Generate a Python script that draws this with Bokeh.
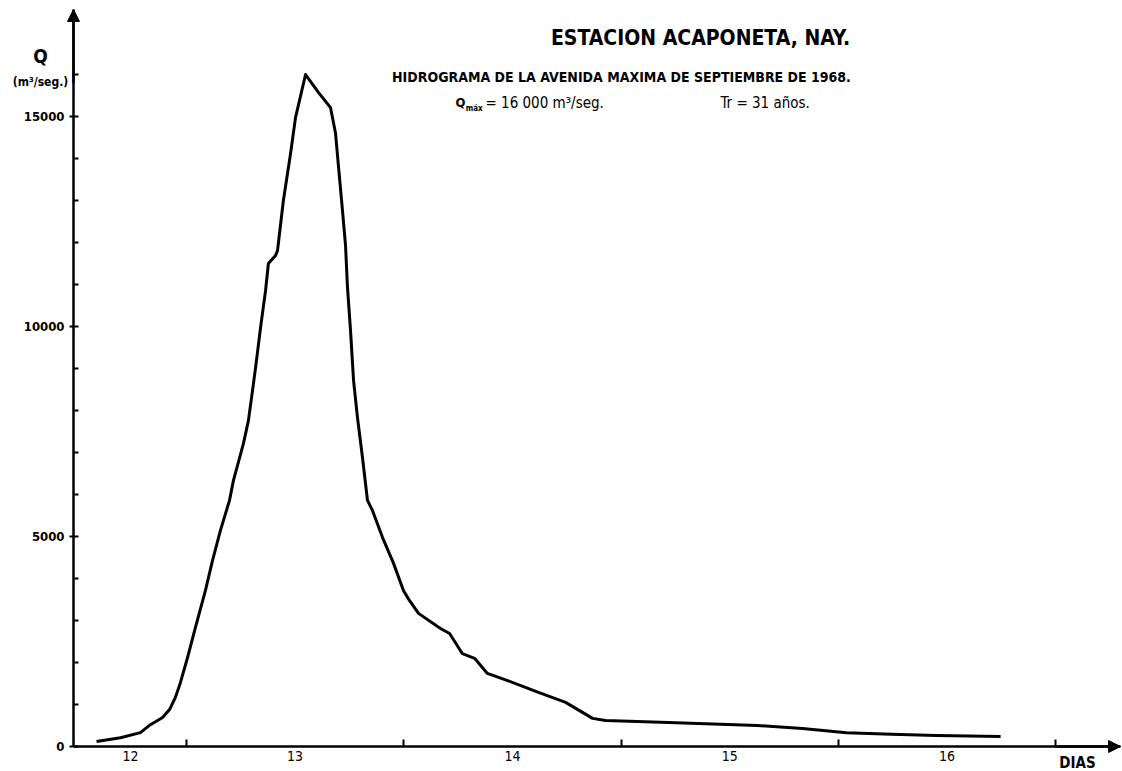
from bokeh.plotting import figure
from bokeh.models import FixedTicker, Label, Arrow, NormalHead, Range1d
from bokeh.embed import file_html
from bokeh.resources import INLINE

# Hydrograph, September 1968 flood (day of month, discharge m3/s)
dias = [12.586, 12.696, 12.788, 12.834, 12.890, 12.922, 12.949, 12.972, 13.005, 13.041,
        13.087, 13.120, 13.156, 13.198, 13.216, 13.262, 13.285, 13.304, 13.318, 13.341,
        13.364, 13.377, 13.410, 13.419, 13.446, 13.479, 13.502, 13.548, 13.608, 13.663,
        13.686, 13.700, 13.718, 13.732, 13.741, 13.755, 13.769, 13.787, 13.810, 13.833,
        13.856, 13.902, 13.953, 13.999, 14.026, 14.068, 14.169, 14.211, 14.270, 14.326,
        14.385, 14.478, 14.620, 14.745, 14.869, 14.929, 15.219, 15.628, 15.835, 16.038,
        16.245, 16.452, 16.747]
caudal = [120, 210, 330, 520, 690, 880, 1170, 1520, 2120, 2830,
          3710, 4430, 5140, 5860, 6330, 7210, 7760, 8480, 9020, 9980,
          10860, 11500, 11690, 11810, 13000, 14120, 14980, 16000, 15570, 15210,
          14600, 13790, 12760, 11930, 10930, 9900, 8710, 7830, 6880, 5860,
          5620, 4980, 4360, 3710, 3480, 3170, 2810, 2690, 2210, 2100,
          1740, 1570, 1290, 1050, 670, 620, 570, 500, 430, 330,
          290, 260, 240]

y_ticks = list(range(0, 17000, 1000))
y_label_ticks = [0, 5000, 10000, 15000]
y_labels = ["0", "5000", "10000", "15000"]
day_bounds = [13, 14, 15, 16, 17]
day_label_pos = [12.742, 13.5, 14.5, 15.5, 16.5]
day_labels = ["12", "13", "14", "15", "16"]

# axis origin and arrow tips
X0, X1 = 12.480, 17.299
Y0, Y1 = 0, 17550
# visible window (whole canvas)
XL, XR = 12.144, 17.308
YB, YT = -595, 17762
FONT = "DejaVu Sans Condensed"

p = figure(width=1122, height=771, output_backend="svg", toolbar_location=None,
           x_range=Range1d(XL, XR), y_range=Range1d(YB, YT),
           min_border=0)
p.outline_line_color = None
p.xgrid.visible = False
p.ygrid.visible = False
p.background_fill_color = "white"

p.line(dias, caudal, line_color="black", line_width=3, line_join="round")

# y axis
ya = p.yaxis[0]
ya.fixed_location = X0
ya.bounds = (Y0, Y1)
ya.ticker = FixedTicker(ticks=y_ticks, minor_ticks=y_label_ticks)
ya.major_label_overrides = {t: (y_labels[y_label_ticks.index(t)] if t in y_label_ticks else "") for t in y_ticks}
ya.axis_line_width = 2.5
ya.axis_line_color = "black"
ya.major_tick_in = 5
ya.major_tick_out = 0
ya.major_tick_line_width = 2
ya.minor_tick_in = 0
ya.minor_tick_out = 4
ya.minor_tick_line_width = 2
ya.major_label_standoff = 5
ya.major_label_text_font = FONT
ya.major_label_text_font_style = "bold"
ya.major_label_text_font_size = "13px"
ya.major_label_text_color = "black"

# x axis
xa = p.xaxis[0]
xa.fixed_location = Y0
xa.bounds = (X0, X1)
xa.ticker = FixedTicker(ticks=day_label_pos, minor_ticks=day_bounds)
xa.major_label_overrides = {t: l for t, l in zip(day_label_pos, day_labels)}
xa.axis_line_width = 2.5
xa.axis_line_color = "black"
xa.major_tick_line_color = None
xa.major_tick_in = 0
xa.major_tick_out = 0
xa.minor_tick_in = 7
xa.minor_tick_out = 0
xa.minor_tick_line_width = 2
xa.major_label_standoff = 4
xa.major_label_text_font = FONT
xa.major_label_text_font_size = "14px"
xa.major_label_text_color = "black"

# arrow heads on axes
p.add_layout(Arrow(x_start=X0, y_start=Y1 * 0.9, x_end=X0, y_end=Y1, line_width=2.5,
                   end=NormalHead(size=12, fill_color="black", line_color="black")))
p.add_layout(Arrow(x_start=X1 - 0.3, y_start=0, x_end=X1, y_end=0, line_width=2.5,
                   end=NormalHead(size=12, fill_color="black", line_color="black")))

def lab(x, y, text, size, style="bold", align="left", baseline="middle"):
    p.add_layout(Label(x=x, y=y, text=text, text_font=FONT, text_font_size=size,
                       text_font_style=style, text_color="black", text_align=align,
                       text_baseline=baseline))

lab(15.366, 16881, "ESTACION ACAPONETA, NAY.", "21px", style="bold", align="center")
lab(15.002, 15952, "HIDROGRAMA DE LA AVENIDA MAXIMA DE SEPTIEMBRE DE 1968.", "14px", align="center")
lab(14.238, 15333, "Q", "13px")
lab(14.285, 15200, "máx", "8px")
lab(14.376, 15333, "= 16 000 m³/seg.", "15px", style="normal")
lab(15.458, 15333, "Tr = 31 años.", "15px", style="normal")
lab(12.328, 16452, "Q", "19px", align="center")
lab(12.328, 15833, "(m³/seg.)", "12px", align="center")
lab(17.101, -381, "DIAS", "15px", align="center")

open("out.html", "w").write(file_html(p, INLINE))
